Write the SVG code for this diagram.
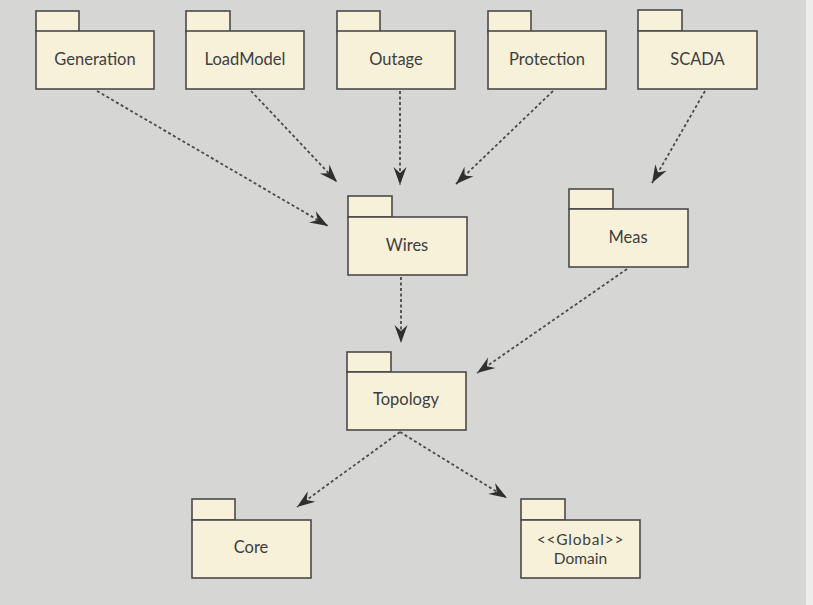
<svg xmlns="http://www.w3.org/2000/svg" width="813" height="605" viewBox="0 0 813 605">
<defs>
<style>
.pk rect{fill:#f7f1d9;stroke:#4a4a4a;stroke-width:1.6}
.pk text{font-family:Lato,"Open Sans","DejaVu Sans",sans-serif;font-size:16.5px;fill:#3e3e3e;text-anchor:middle}
.pk text.sm{font-size:15.5px}
.cn line{stroke:#4a4a4a;stroke-width:1.8;stroke-dasharray:3 2.5;marker-end:url(#ah)}
</style>
<marker id="ah" markerUnits="userSpaceOnUse" markerWidth="22" markerHeight="16" viewBox="-19 -8 20 16" refX="0" refY="0" orient="auto">
<path d="M0,0 L-18,-6.5 L-12,0 L-18,6.5 Z" fill="#2f2f2f"/>
</marker>
</defs>
<rect x="0" y="0" width="813" height="605" fill="#d6d6d4"/>
<rect x="806" y="0" width="7" height="605" fill="#ededeb"/>
<g class="cn" id="connectors">
<line x1="97" y1="91" x2="328" y2="226"/>
<line x1="251" y1="91" x2="337" y2="182"/>
<line x1="400" y1="91" x2="400" y2="185"/>
<line x1="553" y1="91" x2="456" y2="184"/>
<line x1="705" y1="91" x2="652" y2="183"/>
<line x1="401" y1="277" x2="401" y2="343"/>
<line x1="627" y1="269" x2="477" y2="373"/>
<line x1="400" y1="432" x2="297" y2="507"/>
<line x1="400" y1="432" x2="507" y2="498"/>
</g>
<g class="pk" id="generation"><rect x="36" y="11" width="43" height="21"/><rect x="36" y="31" width="118" height="58"/><text x="95" y="65">Generation</text></g>
<g class="pk" id="loadmodel"><rect x="186" y="11" width="44" height="21"/><rect x="186" y="31" width="118" height="58"/><text x="245" y="65">LoadModel</text></g>
<g class="pk" id="outage"><rect x="337" y="11" width="43" height="21"/><rect x="337" y="31" width="118" height="58"/><text x="396" y="65">Outage</text></g>
<g class="pk" id="protection"><rect x="488" y="11" width="43" height="21"/><rect x="488" y="31" width="118" height="58"/><text x="547" y="65">Protection</text></g>
<g class="pk" id="scada"><rect x="638" y="10" width="44" height="21"/><rect x="638" y="31" width="119" height="58"/><text x="697.5" y="65">SCADA</text></g>
<g class="pk" id="wires"><rect x="348" y="196" width="44" height="21"/><rect x="348" y="217" width="119" height="58"/><text x="407" y="251">Wires</text></g>
<g class="pk" id="meas"><rect x="569" y="189" width="44" height="20"/><rect x="569" y="209" width="119" height="58"/><text x="628" y="243">Meas</text></g>
<g class="pk" id="topology"><rect x="347" y="352" width="44" height="20"/><rect x="347" y="372" width="119" height="58"/><text x="406" y="405">Topology</text></g>
<g class="pk" id="core"><rect x="192" y="499" width="43" height="21"/><rect x="192" y="520" width="119" height="58"/><text x="251" y="553">Core</text></g>
<g class="pk" id="domain"><rect x="521" y="499" width="44" height="21"/><rect x="521" y="520" width="119" height="58"/><text class="sm" x="580.5" y="545" letter-spacing="0.8">&lt;&lt;Global&gt;&gt;</text><text class="sm" x="580.5" y="564">Domain</text></g>
</svg>
